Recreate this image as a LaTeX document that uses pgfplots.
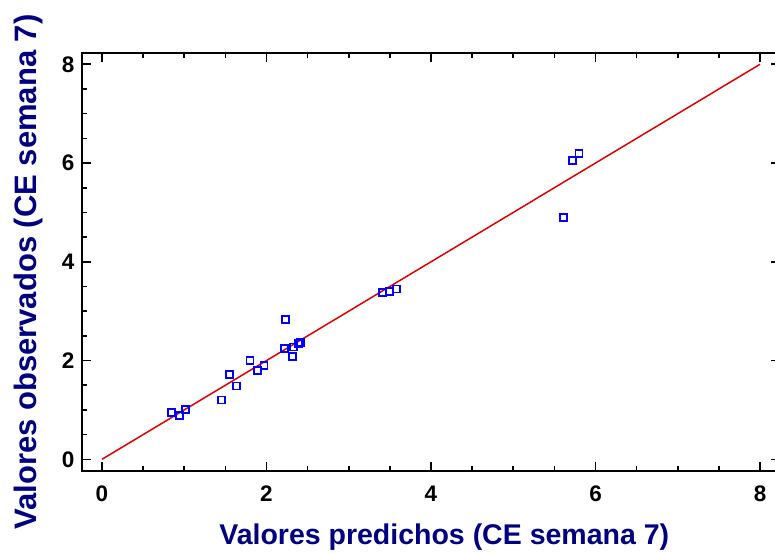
\documentclass[border=0pt]{standalone}
\usepackage{fontspec}
\setmainfont{Liberation Sans}
\usepackage{pgfplots}
\pgfplotsset{compat=1.18}
\definecolor{navylab}{RGB}{0,0,128}
\definecolor{ptblue}{RGB}{0,0,255}
\definecolor{fitred}{RGB}{224,0,0}
\begin{document}
\begin{tikzpicture}[x=1pt,y=1pt]
\useasboundingbox (0,0) rectangle (775,552);
\begin{axis}[
  at={(82pt,81pt)}, anchor=south west,
  scale only axis, width=698pt, height=418pt,
  xmin=-0.243, xmax=8.243, ymin=-0.237, ymax=8.229,
  xtick={0,2,4,6,8}, ytick={0,2,4,6,8},
  minor tick num=3,
  tick align=inside, tick pos=both,
  major tick length=9pt, minor tick length=5pt,
  every tick/.style={black, line width=1.6pt},
  axis line style={line width=2.2pt, black},
  /pgf/number format/assume math mode=true,
  tick label style={font=\fontsize{22.5}{22.5}\selectfont\bfseries, text=black},
  yticklabel style={xshift=-4pt},
  xticklabel style={yshift=-11pt},
  xlabel={Valores predichos (CE semana 7)},
  ylabel={Valores observados (CE semana 7)},
  xlabel style={at={(axis description cs:0.519,-0.177)}, anchor=base, font=\fontsize{28.5}{28.5}\selectfont\bfseries, text=navylab},
  ylabel style={at={(axis description cs:-0.0646,0.476)}, anchor=base, font=\fontsize{31}{31}\selectfont\bfseries, text=navylab},
  clip=false,
]
\addplot[fitred, line width=1.5pt] coordinates {(0,0) (8,8)};
\addplot[only marks, mark=square, mark size=3.5pt, mark options={ptblue, line width=1.8pt}] coordinates {
(0.847,0.944)
(0.940,0.883)
(1.017,1.013)
(1.450,1.201)
(1.547,1.713)
(1.636,1.485)
(1.800,2.005)
(1.895,1.794)
(1.970,1.904)
(2.230,2.827)
(2.220,2.248)
(2.320,2.086)
(2.330,2.274)
(2.390,2.349)
(2.410,2.370)
(3.410,3.382)
(3.500,3.403)
(3.580,3.449)
(5.610,4.893)
(5.720,6.048)
(5.800,6.197)
};
\end{axis}
\end{tikzpicture}
\end{document}
